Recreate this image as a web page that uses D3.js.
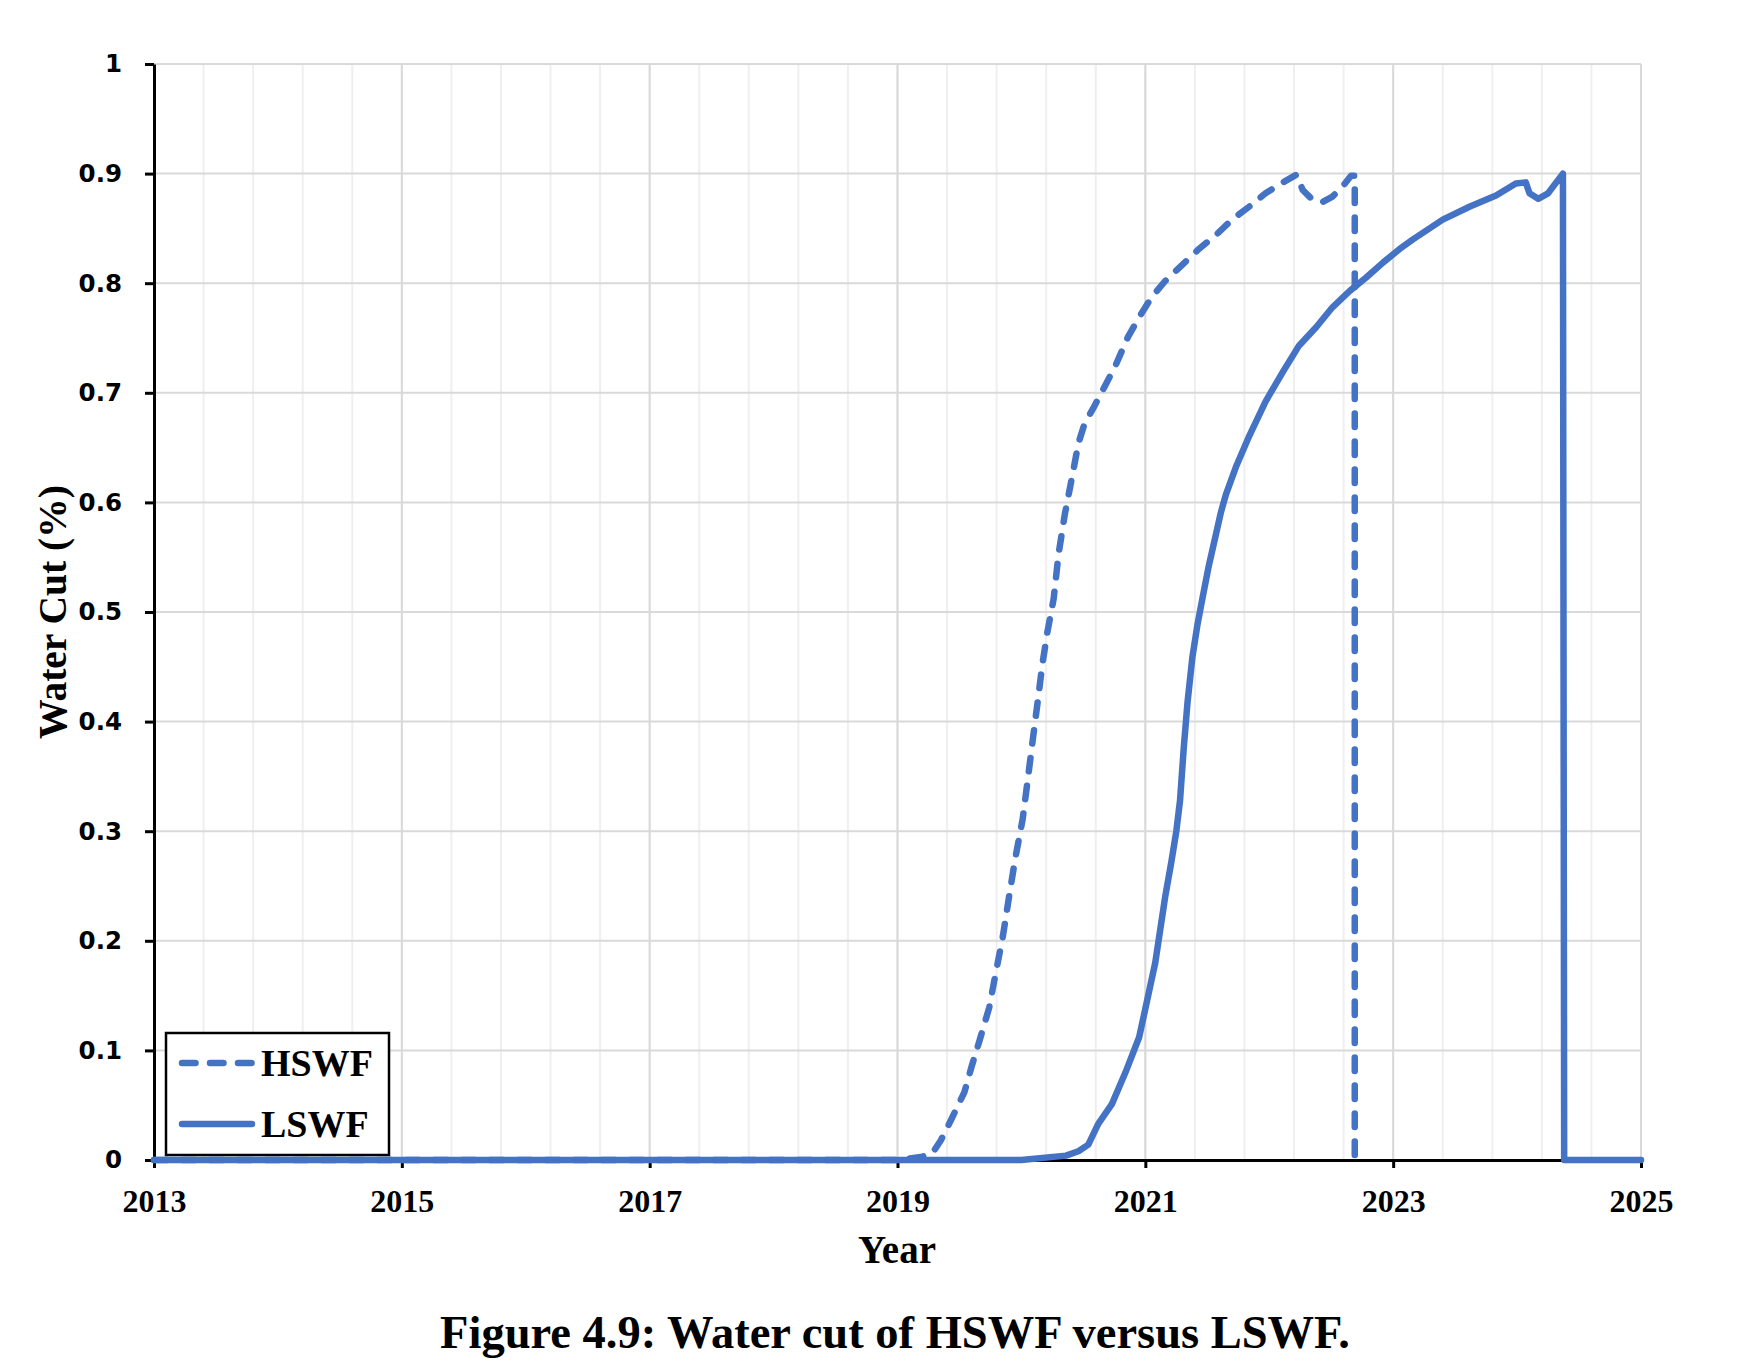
<!DOCTYPE html>
<html>
<head>
<meta charset="utf-8">
<script src="https://cdn.jsdelivr.net/npm/d3@7/dist/d3.min.js"></script>
<style>
body { margin: 0; background: #fff; }
</style>
</head>
<body>
<script>
// water cut (year as decimal)
var hswfYear = [2013, 2019.0, 2019.2, 2019.28, 2019.35, 2019.43, 2019.54, 2019.60, 2019.67, 2019.74,
    2019.79, 2019.85, 2019.90, 2019.95, 2020.01, 2020.05, 2020.09, 2020.13, 2020.17, 2020.21,
    2020.26, 2020.30, 2020.35, 2020.41, 2020.46, 2020.51, 2020.58, 2020.65, 2020.76, 2020.86,
    2020.95, 2021.05, 2021.16, 2021.30, 2021.43, 2021.57, 2021.70, 2021.84, 2021.97, 2022.11,
    2022.22, 2022.27, 2022.35, 2022.43, 2022.51, 2022.59, 2022.66, 2022.69, 2022.69];
var hswfCut = [0, 0, 0.003, 0.006, 0.018, 0.036, 0.062, 0.086, 0.112, 0.139,
    0.169, 0.204, 0.240, 0.275, 0.311, 0.346, 0.382, 0.417, 0.453, 0.482,
    0.512, 0.553, 0.589, 0.624, 0.654, 0.672, 0.686, 0.701, 0.725, 0.751,
    0.769, 0.787, 0.802, 0.817, 0.831, 0.844, 0.858, 0.870, 0.882, 0.892,
    0.899, 0.885, 0.876, 0.874, 0.879, 0.888, 0.898, 0.898, 0];

var lswfYear = [2013, 2020.0, 2020.36, 2020.46, 2020.54, 2020.62, 2020.73, 2020.84, 2020.95, 2021.0,
    2021.08, 2021.16, 2021.21, 2021.25, 2021.28, 2021.31, 2021.34, 2021.38, 2021.42, 2021.46,
    2021.51, 2021.57, 2021.61, 2021.65, 2021.73, 2021.84, 2021.97, 2022.11, 2022.24, 2022.38,
    2022.51, 2022.65, 2022.78, 2022.92, 2023.05, 2023.16, 2023.40, 2023.62, 2023.83, 2023.99,
    2024.07, 2024.10, 2024.17, 2024.25, 2024.37, 2024.38, 2025];
var lswfCut = [0, 0, 0.004, 0.008, 0.014, 0.033, 0.051, 0.080, 0.112, 0.138,
    0.180, 0.240, 0.272, 0.300, 0.328, 0.376, 0.417, 0.459, 0.488, 0.512,
    0.541, 0.571, 0.591, 0.607, 0.632, 0.661, 0.692, 0.719, 0.743, 0.760,
    0.778, 0.793, 0.805, 0.819, 0.831, 0.840, 0.858, 0.870, 0.880, 0.891,
    0.892, 0.882, 0.877, 0.882, 0.900, 0, 0];

var seriesNames = ["HSWF", "LSWF"];
var xTicks = [2013, 2015, 2017, 2019, 2021, 2023, 2025];
var yTicks = [0, 0.1, 0.2, 0.3, 0.4, 0.5, 0.6, 0.7, 0.8, 0.9, 1];
var yTickLabels = ["0", "0.1", "0.2", "0.3", "0.4", "0.5", "0.6", "0.7", "0.8", "0.9", "1"];

var width = 1742,
    height = 1366;

var blue = "#4472c4",
    serif = "'Liberation Serif', 'Times New Roman', serif";

var svg = d3.select("body")
    .append("svg")
    .attr("width", width)
    .attr("height", height)
    .style("display", "block");

var x = d3.scaleLinear().domain([2013, 2025]).range([154, 1641]);
var y = d3.scaleLinear().domain([0, 1]).range([1160, 64]);

// gridlines
var grid = svg.append("g");
var minor = d3.range(0, 31).map(i => 2013 + i * 0.4);

grid.selectAll(".minor")
    .data(minor)
    .enter().append("line")
    .attr("x1", d => x(d)).attr("x2", d => x(d))
    .attr("y1", y(0)).attr("y2", y(1))
    .attr("stroke", "#efefef")
    .attr("stroke-width", 2);

grid.selectAll(".major")
    .data(xTicks)
    .enter().append("line")
    .attr("x1", d => x(d)).attr("x2", d => x(d))
    .attr("y1", y(0)).attr("y2", y(1))
    .attr("stroke", "#d9d9d9")
    .attr("stroke-width", 2);

grid.selectAll(".hline")
    .data(yTicks)
    .enter().append("line")
    .attr("x1", x(2013)).attr("x2", x(2025))
    .attr("y1", d => y(d)).attr("y2", d => y(d))
    .attr("stroke", "#d9d9d9")
    .attr("stroke-width", 2);

// axes
var yAxis = svg.append("g")
    .attr("transform", "translate(" + x(2013) + ",0)")
    .call(d3.axisLeft(y)
        .tickValues(yTicks)
        .tickFormat((d, i) => yTickLabels[i])
        .tickSizeInner(9)
        .tickSizeOuter(0)
        .tickPadding(23));

var xAxis = svg.append("g")
    .attr("transform", "translate(0," + y(0) + ")")
    .call(d3.axisBottom(x)
        .tickValues(xTicks)
        .tickFormat(d => d)
        .tickSizeInner(8)
        .tickSizeOuter(0)
        .tickPadding(21));

[xAxis, yAxis].forEach(function (a) {
    a.select(".domain").attr("stroke", "#000").attr("stroke-width", 3);
    a.selectAll(".tick line").attr("stroke", "#000").attr("stroke-width", 3);
});

yAxis.selectAll(".tick text")
    .attr("fill", "#000")
    .style("font-family", "'DejaVu Sans', sans-serif")
    .style("font-weight", "bold")
    .style("font-size", "24.5px");

xAxis.selectAll(".tick text")
    .attr("fill", "#000")
    .style("font-family", serif)
    .style("font-weight", "bold")
    .style("font-size", "32px");

// series
var line = d3.line()
    .x(d => x(d[0]))
    .y(d => y(d[1]));

var series = [
    { name: seriesNames[0], pts: d3.zip(hswfYear, hswfCut), dash: "13.5 14.5" },
    { name: seriesNames[1], pts: d3.zip(lswfYear, lswfCut), dash: null }
];

svg.selectAll(".series")
    .data(series)
    .enter().append("path")
    .attr("d", d => line(d.pts))
    .attr("fill", "none")
    .attr("stroke", blue)
    .attr("stroke-width", 6.5)
    .attr("stroke-linejoin", "round")
    .attr("stroke-linecap", "round")
    .attr("stroke-dasharray", d => d.dash);

// legend
var legend = svg.append("g");

legend.append("rect")
    .attr("x", 166).attr("y", 1033)
    .attr("width", 223).attr("height", 122)
    .attr("fill", "#fff")
    .attr("stroke", "#000")
    .attr("stroke-width", 2.5);

var entries = legend.selectAll(".entry")
    .data(series)
    .enter().append("g")
    .attr("transform", (d, i) => "translate(0," + (1063 + i * 61) + ")");

entries.append("line")
    .attr("x1", 182).attr("x2", 252)
    .attr("stroke", blue)
    .attr("stroke-width", 6.5)
    .attr("stroke-linecap", "round")
    .attr("stroke-dasharray", d => d.dash);

entries.append("text")
    .attr("x", 261)
    .attr("y", 13)
    .style("font-family", serif)
    .style("font-weight", "bold")
    .style("font-size", "38px")
    .text(d => d.name);

// titles
svg.append("text")
    .attr("x", 897)
    .attr("y", 1263)
    .attr("text-anchor", "middle")
    .style("font-family", serif)
    .style("font-weight", "bold")
    .style("font-size", "39px")
    .text("Year");

svg.append("text")
    .attr("transform", "translate(66,612) rotate(-90)")
    .attr("text-anchor", "middle")
    .style("font-family", serif)
    .style("font-weight", "bold")
    .style("font-size", "39.5px")
    .text("Water Cut (%)");

svg.append("text")
    .attr("x", 895)
    .attr("y", 1348)
    .attr("text-anchor", "middle")
    .style("font-family", serif)
    .style("font-weight", "bold")
    .style("font-size", "46.5px")
    .text("Figure 4.9: Water cut of HSWF versus LSWF.");
</script>
</body>
</html>
